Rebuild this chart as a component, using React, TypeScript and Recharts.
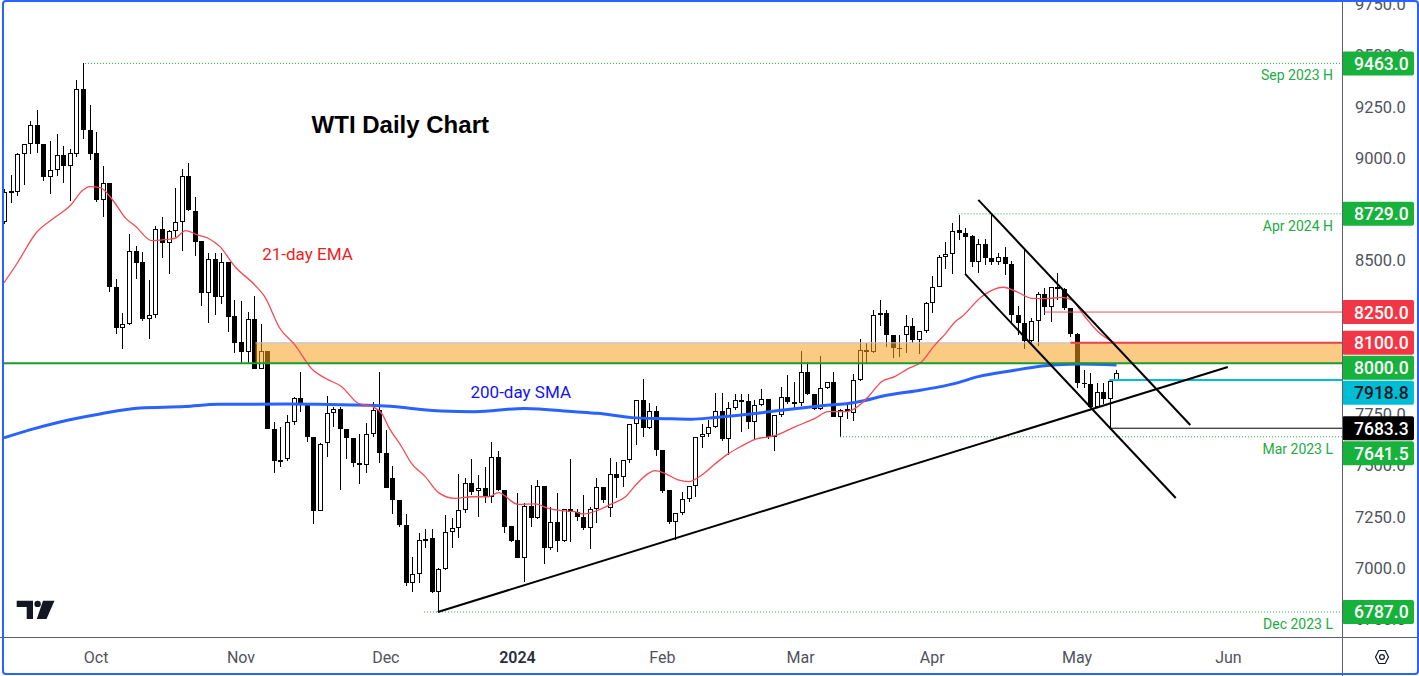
import React from 'react';
import { ComposedChart, Bar, Line, XAxis, YAxis, ReferenceLine, ReferenceArea, ReferenceDot } from 'recharts';

const FONT = "Roboto, 'Liberation Sans', Arial, sans-serif";

// ---------------- data ----------------
const opens = [
  8691, 8837, 8837, 9019, 9068, 9161, 9068, 8910, 8941, 9014,
  8964, 9021, 9336, 9136, 9024, 8798, 8879, 8370, 8174, 8190,
  8546, 8494, 8218, 8234, 8655, 8585, 8644, 8688, 8912, 8744,
  8597, 8345, 8508, 8325, 8492, 8231, 8104, 8057, 8214, 7974,
  8060, 7678, 7525, 7531, 7712, 7829, 7801, 7639, 7281, 7613,
  7756, 7777, 7678, 7634, 7512, 7502, 7654, 7772, 7561, 7439,
  7331, 7211, 6927, 6972, 7136, 7146, 6883, 6995, 7177, 7195,
  7283, 7415, 7377, 7390, 7346, 7541, 7380, 7206, 7138, 7052,
  7305, 7244, 7400, 7097, 7224, 7135, 7288, 7276, 7249, 7195,
  7289, 7395, 7292, 7458, 7444, 7528, 7702, 7819, 7686, 7769,
  7577, 7382, 7228, 7271, 7336, 7401, 7639, 7653, 7688, 7767,
  7632, 7780, 7818, 7816, 7714, 7797, 7824, 7642, 7748, 7834,
  7810, 7805, 7956, 7849, 7779, 7878, 7907, 7740, 7772, 7760,
  7917, 8065, 8053, 8235, 8244, 8137, 8075, 8136, 8184, 8112,
  8156, 8293, 8374, 8517, 8532, 8650, 8634, 8621, 8492, 8582,
  8512, 8492, 8517, 8483, 8236, 8198, 8110, 8208, 8337, 8277,
  8371, 8361, 8268, 8143, 7905, 7899, 7785, 7858, 7824, 7920,
];
const highs = [
  8850, 8918, 9027, 9072, 9182, 9236, 9072, 9084, 9117, 9061,
  9043, 9382, 9463, 9260, 9127, 8962, 8881, 8409, 8244, 8629,
  8571, 8543, 8405, 8668, 8714, 8648, 8853, 8946, 8975, 8810,
  8597, 8536, 8536, 8540, 8495, 8309, 8305, 8249, 8328, 8193,
  8062, 7715, 7691, 7748, 7835, 7959, 7805, 7640, 7613, 7840,
  7789, 7789, 7680, 7636, 7654, 7707, 7810, 7959, 7675, 7499,
  7335, 7263, 7057, 7171, 7190, 7190, 7000, 7262, 7244, 7458,
  7439, 7533, 7455, 7496, 7618, 7574, 7382, 7208, 7366, 7317,
  7406, 7430, 7402, 7301, 7366, 7290, 7532, 7290, 7358, 7300,
  7439, 7397, 7540, 7520, 7530, 7705, 7821, 7923, 7805, 7790,
  7578, 7383, 7271, 7372, 7402, 7639, 7702, 7723, 7857, 7853,
  7813, 7850, 7850, 7850, 7821, 7873, 7826, 7749, 7886, 7943,
  7911, 8060, 8008, 7852, 8036, 7910, 7956, 7775, 7800, 7948,
  8117, 8097, 8260, 8309, 8260, 8139, 8138, 8234, 8220, 8158,
  8300, 8426, 8527, 8590, 8686, 8722, 8660, 8625, 8605, 8605,
  8729, 8540, 8569, 8499, 8280, 8556, 8220, 8346, 8366, 8371,
  8442, 8365, 8270, 8150, 7967, 7951, 7905, 7905, 7919, 7967,
];
const lows = [
  8680, 8784, 8818, 8870, 9019, 9027, 8889, 8828, 8915, 8881,
  8793, 9008, 9096, 8990, 8786, 8715, 8346, 8141, 8068, 8188,
  8413, 8206, 8120, 8223, 8515, 8437, 8618, 8546, 8744, 8525,
  8281, 8195, 8237, 8288, 8154, 8052, 8003, 8003, 7974, 7970,
  7678, 7463, 7496, 7525, 7700, 7764, 7618, 7216, 7280, 7545,
  7691, 7382, 7531, 7495, 7409, 7466, 7640, 7512, 7390, 7266,
  7200, 6915, 6886, 6927, 7100, 6880, 6787, 6990, 7097, 7150,
  7270, 7358, 7249, 7320, 7317, 7378, 7174, 7130, 7050, 6935,
  7200, 7240, 7019, 7090, 7081, 7130, 7130, 7230, 7187, 7094,
  7219, 7320, 7252, 7345, 7398, 7512, 7601, 7642, 7680, 7549,
  7366, 7215, 7138, 7260, 7323, 7349, 7585, 7640, 7686, 7620,
  7553, 7770, 7666, 7678, 7626, 7790, 7631, 7574, 7740, 7800,
  7780, 7790, 7845, 7770, 7770, 7875, 7738, 7639, 7730, 7720,
  7915, 8003, 8052, 8182, 8081, 8024, 8029, 8052, 8100, 8045,
  8150, 8244, 8370, 8459, 8436, 8602, 8436, 8470, 8442, 8480,
  8480, 8480, 8431, 8203, 8138, 8070, 8089, 8086, 8236, 8201,
  8309, 8260, 8130, 7878, 7878, 7785, 7783, 7800, 7683, 7915,
];
const closes = [
  8837, 8842, 9021, 9068, 9161, 9068, 8910, 8941, 9014, 8964,
  9024, 9336, 9136, 9023, 8798, 8878, 8370, 8174, 8190, 8546,
  8491, 8218, 8234, 8655, 8585, 8644, 8688, 8912, 8746, 8593,
  8345, 8509, 8325, 8492, 8228, 8101, 8057, 8214, 7974, 8060,
  7678, 7525, 7530, 7712, 7829, 7797, 7639, 7281, 7605, 7756,
  7777, 7678, 7634, 7512, 7502, 7654, 7772, 7561, 7393, 7331,
  7210, 6927, 6972, 7136, 7144, 6883, 6995, 7177, 7195, 7283,
  7415, 7374, 7390, 7349, 7541, 7380, 7203, 7133, 7052, 7305,
  7244, 7400, 7097, 7224, 7135, 7288, 7273, 7249, 7195, 7289,
  7395, 7333, 7458, 7442, 7528, 7702, 7819, 7686, 7769, 7576,
  7379, 7228, 7271, 7336, 7402, 7639, 7654, 7688, 7767, 7632,
  7780, 7819, 7822, 7714, 7797, 7824, 7642, 7748, 7834, 7810,
  7812, 7956, 7849, 7779, 7878, 7907, 7740, 7772, 7775, 7917,
  8063, 8055, 8236, 8244, 8137, 8073, 8073, 8184, 8112, 8156,
  8293, 8374, 8517, 8532, 8647, 8634, 8618, 8493, 8582, 8512,
  8492, 8517, 8483, 8236, 8198, 8111, 8208, 8337, 8277, 8371,
  8361, 8268, 8143, 7903, 7897, 7785, 7858, 7824, 7914, 7951,
];

// 21-day EMA read at sample bars (bar index, value)
const emaIdx = [0, 2, 4.9, 7.75, 10, 12, 13, 14.6, 16.7, 18.5, 19.9, 22.5, 24.8, 26, 27.6, 29.5, 31, 32.8, 35.1, 38.1, 39.6, 41.9, 44.2, 46.7, 48.8, 51.3, 53.8, 56, 57.5, 58.4, 60.4, 61.9, 64, 66, 68.5, 71, 73.6, 75.1, 78.1, 80.7, 82.7, 84.7, 86.7, 88, 90.3, 92.3, 94.3, 96.1, 97.9, 98.9, 100.4, 102.4, 104, 106, 108, 110, 112.1, 114.1, 117.1, 120.2, 123.2, 125.2, 127.8, 129.3, 131.3, 133.3, 135.3, 137.4, 139.4, 141.4, 142.9, 144.5, 145.5, 148.5, 151.8, 153.8, 156.1, 158.1, 160.7, 162.2, 164.2, 166.2, 168.8];
const emaVals = [8393, 8488, 8637, 8712, 8767, 8845, 8862, 8857, 8788, 8707, 8671, 8598, 8605, 8610, 8647, 8625, 8610, 8569, 8471, 8382, 8325, 8171, 8089, 7975, 7927, 7886, 7805, 7788, 7750, 7691, 7593, 7512, 7447, 7369, 7341, 7349, 7349, 7369, 7312, 7314, 7292, 7281, 7276, 7265, 7284, 7314, 7346, 7411, 7463, 7476, 7463, 7431, 7423, 7455, 7509, 7558, 7597, 7629, 7647, 7691, 7731, 7764, 7764, 7780, 7837, 7910, 7935, 7975, 8008, 8089, 8140, 8203, 8227, 8325, 8371, 8350, 8317, 8315, 8322, 8309, 8227, 8154, 8097];

// 200-day SMA read at sample bars
const smaIdx = [0, 3.9, 8.5, 14.6, 20.7, 27.5, 32.5, 42.7, 52.9, 57.9, 66.5, 71.5, 79.1, 86.7, 90.2, 95.4, 100.4, 104.5, 108, 115.6, 119.1, 124.2, 129.3, 134.3, 139.4, 144.5, 148, 153.1, 158.1, 163.1, 169];
const smaVals = [7636, 7675, 7714, 7753, 7782, 7789, 7800, 7801, 7797, 7792, 7767, 7764, 7780, 7764, 7756, 7735, 7730, 7727, 7736, 7761, 7775, 7793, 7809, 7845, 7870, 7902, 7935, 7964, 7988, 7997, 7992];

// x axis month labels at bar indices
const monthTickIdx = [14, 36, 58, 78, 100, 121, 141, 163, 186];
const monthLabels = ['Oct', 'Nov', 'Dec', '2024', 'Feb', 'Mar', 'Apr', 'May', 'Jun'];

// price axis
const priceTicks = [9750, 9500, 9250, 9000, 8500, 7750, 7500, 7250, 7000, 6750];
const markerValues = [9463.0, 8729.0, 8250.0, 8100.0, 8000.0, 7918.8, 7683.3, 7641.5, 6787.0];
const markerFill = ['#17b23b', '#17b23b', '#f23645', '#f23645', '#17b23b', '#00bcd4', '#000000', '#17b23b', '#17b23b'];
const markerTextColor = ['#fff', '#fff', '#fff', '#fff', '#fff', '#131722', '#fff', '#fff', '#fff'];

// ---------------- layout constants ----------------
const W = 1419;
const H = 676;
const PLOT_LEFT = 4;
const PLOT_TOP = 2;
const AXIS_W = 77;
const AXIS_H = 39;
const PLOT_H = H - PLOT_TOP - AXIS_H;
const XMIN = 0;
const XMAX = 203.25;
const YMIN = 6664.9;
const YMAX = 9762.4;

const candles = opens.map((o, i) => ({ i, o, h: highs[i], l: lows[i], c: closes[i] }));
const emaData = emaIdx.map((i, k) => ({ i, ema: emaVals[k] }));
const smaData = smaIdx.map((i, k) => ({ i, sma: smaVals[k] }));

// stacked price-label boxes (avoid overlaps, 25px pitch)
const markerShift = (() => {
  const ypx = (v: number) => PLOT_TOP + ((YMAX - v) / (YMAX - YMIN)) * PLOT_H;
  let prev = -Infinity;
  return markerValues.map((v) => {
    const y0 = ypx(v);
    const y = Math.max(y0, prev + 25);
    prev = y;
    return y - y0;
  });
})();

const Candle = (props: any) => {
  const { x, y, width, height, payload } = props;
  if (!payload) return null;
  const { o, h, l, c } = payload;
  const cx = Math.round(x + width / 2);
  const top = Math.min(y, y + height);
  const span = Math.abs(height);
  const k = h > l ? span / (h - l) : 0;
  const yOf = (v: number) => top + (h - v) * k;
  const bt = Math.round(yOf(Math.max(o, c)));
  const bb = Math.round(yOf(Math.min(o, c)));
  const bh = Math.max(1, bb - bt);
  const up = c >= o;
  return (
    <g>
      <line x1={cx + 0.5} x2={cx + 0.5} y1={Math.round(top)} y2={Math.round(top + span)} stroke="#000" strokeWidth={1} />
      {up ? (
        <rect x={cx - 1.5} y={bt + 0.5} width={4} height={Math.max(1, bh - 1)} fill="#fff" stroke="#000" strokeWidth={1} />
      ) : (
        <rect x={cx - 2} y={bt} width={5} height={bh} fill="#000" />
      )}
    </g>
  );
};

const XTick = (props: any) => {
  const { x, y, payload } = props;
  const k = monthTickIdx.indexOf(payload.value);
  const label = k >= 0 ? monthLabels[k] : '';
  const isYear = /^\d{4}$/.test(label);
  return (
    <text x={x} y={y + 20} textAnchor="middle" dominantBaseline="central" fontFamily={FONT} fontSize={16} fill={isYear ? '#2a2e39' : '#50535e'} fontWeight={isYear ? 600 : 400}>
      {label}
    </text>
  );
};

const YTick = (props: any) => {
  const { x, y, payload } = props;
  const v = payload.value;
  const k = markerValues.indexOf(v);
  if (k < 0) {
    return (
      <text x={x + 13} y={y} dominantBaseline="central" fontFamily={FONT} fontSize={16.5} fill="#50535e">
        {v.toFixed(1)}
      </text>
    );
  }
  const yy = y + markerShift[k];
  return (
    <g>
      <rect x={x} y={yy - 12} width={72} height={24} rx={2} fill={markerFill[k]} />
      <text x={x + 12} y={yy + 0.5} dominantBaseline="central" fontFamily={FONT} fontSize={17.5} fontWeight={500} fill={markerTextColor[k]}>
        {v.toFixed(1)}
      </text>
    </g>
  );
};

const rightNote = (text: string) => (p: any) => {
  const vb = p.viewBox || {};
  return (
    <text x={vb.x + vb.width - 9} y={vb.y + 12} textAnchor="end" dominantBaseline="central" fontFamily={FONT} fontSize={14} fill="#22ab44">
      {text}
    </text>
  );
};

const GREEN_DOT = '#22a83e';

export default function App() {
  return (
    <div style={{ position: 'relative', width: W, height: H, background: '#fff', overflow: 'hidden', fontFamily: FONT }}>
      <style>{`html,body{margin:0;padding:0;background:#fff;}`}</style>
      <ComposedChart width={W} height={H} data={candles} margin={{ top: PLOT_TOP, right: 0, bottom: 0, left: PLOT_LEFT }}>
        <XAxis
          type="number"
          dataKey="i"
          domain={[XMIN, XMAX]}
          allowDataOverflow
          ticks={monthTickIdx}
          interval={0}
          tick={XTick}
          tickLine={false}
          axisLine={false}
          tickSize={0}
          tickMargin={0}
          height={AXIS_H}
        />
        <YAxis
          orientation="right"
          type="number"
          domain={[YMIN, YMAX]}
          allowDataOverflow
          ticks={[...priceTicks, ...markerValues]}
          interval={0}
          tick={YTick}
          tickLine={false}
          axisLine={false}
          tickSize={0}
          tickMargin={0}
          width={AXIS_W}
        />

        <Bar dataKey={(d: any) => [d.l, d.h]} barSize={5} shape={Candle} isAnimationActive={false} />

        <ReferenceArea x1={38.2} x2={XMAX} y1={8000} y2={8100} fill="#f7a01f" fillOpacity={0.55} stroke="none" zIndex={350} />
        <ReferenceLine segment={[{ x: 38.2, y: 8100 }, { x: XMAX, y: 8100 }]} stroke="#b3c6dc" strokeWidth={1} />

        <Line data={smaData} dataKey="sma" type="monotone" stroke="#2962ff" strokeWidth={3} dot={false} activeDot={false} connectNulls isAnimationActive={false} />
        <Line data={emaData} dataKey="ema" type="monotone" stroke="#f44a55" strokeWidth={1.3} dot={false} activeDot={false} connectNulls isAnimationActive={false} />

        <ReferenceLine y={8000} stroke="#179c2d" strokeWidth={2} />
        <ReferenceLine segment={[{ x: 162, y: 8100 }, { x: XMAX, y: 8100 }]} stroke="#e8404e" strokeWidth={2} />
        <ReferenceLine segment={[{ x: 158, y: 8250 }, { x: XMAX, y: 8250 }]} stroke="#e8505c" strokeWidth={1} />
        <ReferenceLine segment={[{ x: 167.9, y: 7918.8 }, { x: XMAX, y: 7918.8 }]} stroke="#00bcd4" strokeWidth={2} />
        <ReferenceLine segment={[{ x: 168, y: 7683.3 }, { x: XMAX, y: 7683.3 }]} stroke="#000" strokeWidth={1} />

        <ReferenceLine segment={[{ x: 12.3, y: 9463 }, { x: XMAX, y: 9463 }]} stroke={GREEN_DOT} strokeDasharray="1 2" strokeWidth={1} label={rightNote('Sep 2023 H')} />
        <ReferenceLine segment={[{ x: 145, y: 8729 }, { x: XMAX, y: 8729 }]} stroke={GREEN_DOT} strokeDasharray="1 2" strokeWidth={1} label={rightNote('Apr 2024 H')} />
        <ReferenceLine segment={[{ x: 127, y: 7641.5 }, { x: XMAX, y: 7641.5 }]} stroke={GREEN_DOT} strokeDasharray="1 2" strokeWidth={1} label={rightNote('Mar 2023 L')} />
        <ReferenceLine segment={[{ x: 63.8, y: 6787 }, { x: XMAX, y: 6787 }]} stroke={GREEN_DOT} strokeDasharray="1 2" strokeWidth={1} label={rightNote('Dec 2023 L')} />

        <ReferenceLine segment={[{ x: 65.9, y: 6787 }, { x: 185.9, y: 7982 }]} stroke="#000" strokeWidth={2} />
        <ReferenceLine segment={[{ x: 148, y: 8797 }, { x: 180.2, y: 7699 }]} stroke="#000" strokeWidth={2} />
        <ReferenceLine segment={[{ x: 146, y: 8436 }, { x: 178, y: 7343 }]} stroke="#000" strokeWidth={2} />

        <ReferenceDot x={60.2} y={9167} r={0} fill="none" stroke="none" label={{ value: 'WTI Daily Chart', position: 'center', fill: '#000', fontSize: 24, fontWeight: 700, fontFamily: "'Liberation Sans', Arial, sans-serif" }} />
        <ReferenceDot x={46.1} y={8533} r={0} fill="none" stroke="none" label={{ value: '21-day EMA', position: 'center', fill: '#f21c1c', fontSize: 17, fontFamily: FONT }} />
        <ReferenceDot x={78.5} y={7860} r={0} fill="none" stroke="none" label={{ value: '200-day SMA', position: 'center', fill: '#1414f0', fontSize: 17, fontFamily: FONT }} />
      </ComposedChart>

      {/* pane separators */}
      <div style={{ position: 'absolute', left: W - AXIS_W, top: 0, width: 1, height: H, background: '#5d606b' }} />
      <div style={{ position: 'absolute', left: 0, top: H - AXIS_H, width: W, height: 1, background: '#5d606b' }} />

      {/* logo and settings icon */}
      <svg style={{ position: 'absolute', left: 0, top: 0, pointerEvents: 'none' }} width={W} height={H}>
        <polygon points="16.7,600.7 33,600.7 33,619 26.7,619 26.7,607 16.7,607" fill="#131722" />
        <circle cx={37.6} cy={603.9} r={3.2} fill="#131722" />
        <polygon points="43,600.7 54.5,600.7 46.5,619 36.8,619" fill="#131722" />
        <polygon points="1375.5,657 1378.8,650.5 1385.2,650.5 1388.5,657 1385.2,663.5 1378.8,663.5" fill="none" stroke="#131722" strokeWidth={1.2} />
        <circle cx={1382} cy={657} r={2.4} fill="none" stroke="#131722" strokeWidth={1.2} />
      </svg>

      {/* frame */}
      <div style={{ position: 'absolute', left: 2, top: 0, width: W - 2, height: H - 1, border: '2px solid #2962ff', borderRadius: 4, boxSizing: 'border-box', pointerEvents: 'none' }} />
    </div>
  );
}
